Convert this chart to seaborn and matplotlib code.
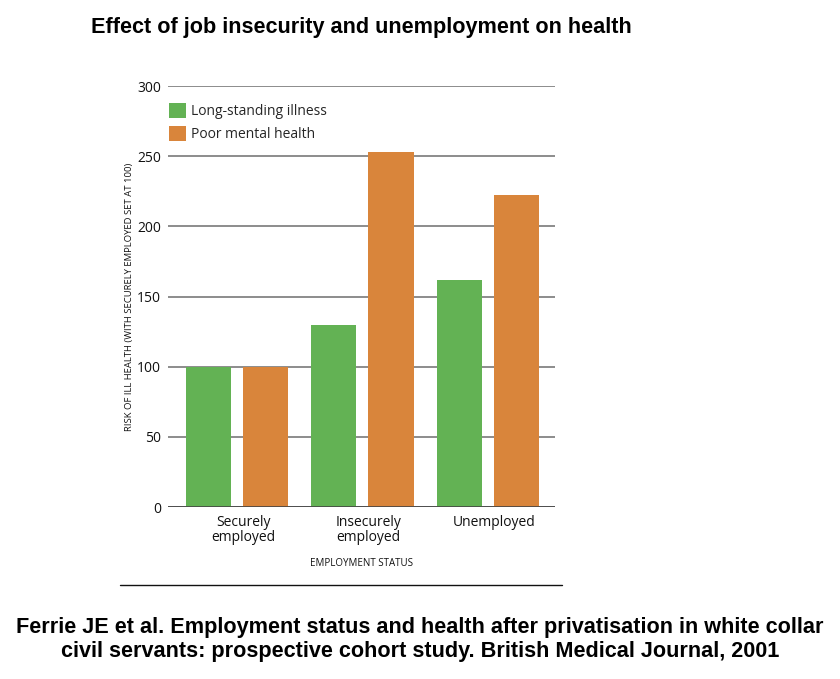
import pandas as pd
import seaborn as sns
import matplotlib.pyplot as plt
import matplotlib.transforms as mtransforms
from matplotlib.patches import Patch

# ----- Data -----
categories = ["Securely\nemployed", "Insecurely\nemployed", "Unemployed"]
series_names = ["Long-standing illness", "Poor mental health"]
illness = [100, 130, 162]
mental = [100, 253, 222]
y_ticks = [0, 50, 100, 150, 200, 250, 300]

colors = ["#63B254", "#D9853B"]

df = pd.DataFrame({
    "status": categories * 2,
    "series": [series_names[0]] * 3 + [series_names[1]] * 3,
    "risk": illness + mental,
})

# ----- Plot -----
sns.set_style("white")
plt.rcParams['font.family'] = ['Open Sans', 'DejaVu Sans']

fig = plt.figure(figsize=(8.4, 6.79), dpi=100)
ax = fig.add_axes([0.2, 0.2533, 0.4607, 0.62])

sns.barplot(data=df, x="status", y="risk", hue="series", order=categories,
            hue_order=series_names, palette=colors, width=0.912, gap=0.21,
            saturation=1, linewidth=0, legend=False, ax=ax)

ax.set_ylim(0, 300)
ax.set_xlim(-0.552, 2.536)
ax.set_yticks(y_ticks)
ax.yaxis.grid(True, color="#6e6e6e", linewidth=1.1)
ax.set_axisbelow(True)
for s in ax.spines.values():
    s.set_visible(False)
ax.axhline(0, color="#444444", linewidth=1.2, zorder=3)
ax.tick_params(axis="both", length=0, labelsize=10, colors="#111111")
ax.tick_params(axis="y", pad=5)
ax.tick_params(axis="x", pad=6)
# category labels sit a little right of the bar pairs in the original
shift = mtransforms.ScaledTranslation(6 / 100, 0, fig.dpi_scale_trans)
for lbl in ax.get_xticklabels():
    lbl.set_linespacing(1.0)
    lbl.set_transform(lbl.get_transform() + shift)

ax.set_ylabel("RISK OF ILL HEALTH (WITH SECURELY EMPLOYED SET AT 100)",
              fontsize=6.8, labelpad=2, color="#111111")
ax.set_xlabel("EMPLOYMENT STATUS", fontsize=7, labelpad=9, color="#111111")

handles = [Patch(facecolor=c, edgecolor="none") for c in colors]
ax.legend(handles, series_names, loc="upper left", bbox_to_anchor=(-0.012, 0.972),
          borderaxespad=0, frameon=False, fontsize=10, handlelength=1.22,
          handleheight=1.22, handletextpad=0.4, labelspacing=0.5)

fig.text(0.108, 1 - 27 / 679, "Effect of job insecurity and unemployment on health",
         family="Liberation Sans", weight="bold", fontsize=15.6, va="center",
         color="black")

fig.add_artist(plt.Line2D([0.143, 0.669], [1 - 585 / 679] * 2, color="#111111",
                          linewidth=1.0))

fig.text(0.5, 1 - 627 / 679,
         "Ferrie JE et al. Employment status and health after privatisation in white collar",
         family="Liberation Sans", weight="bold", fontsize=15.6, ha="center", va="center",
         color="black")
fig.text(0.5, 1 - 651 / 679,
         "civil servants: prospective cohort study. British Medical Journal, 2001",
         family="Liberation Sans", weight="bold", fontsize=15.6, ha="center", va="center",
         color="black")

fig.savefig("out.png", dpi=100)
